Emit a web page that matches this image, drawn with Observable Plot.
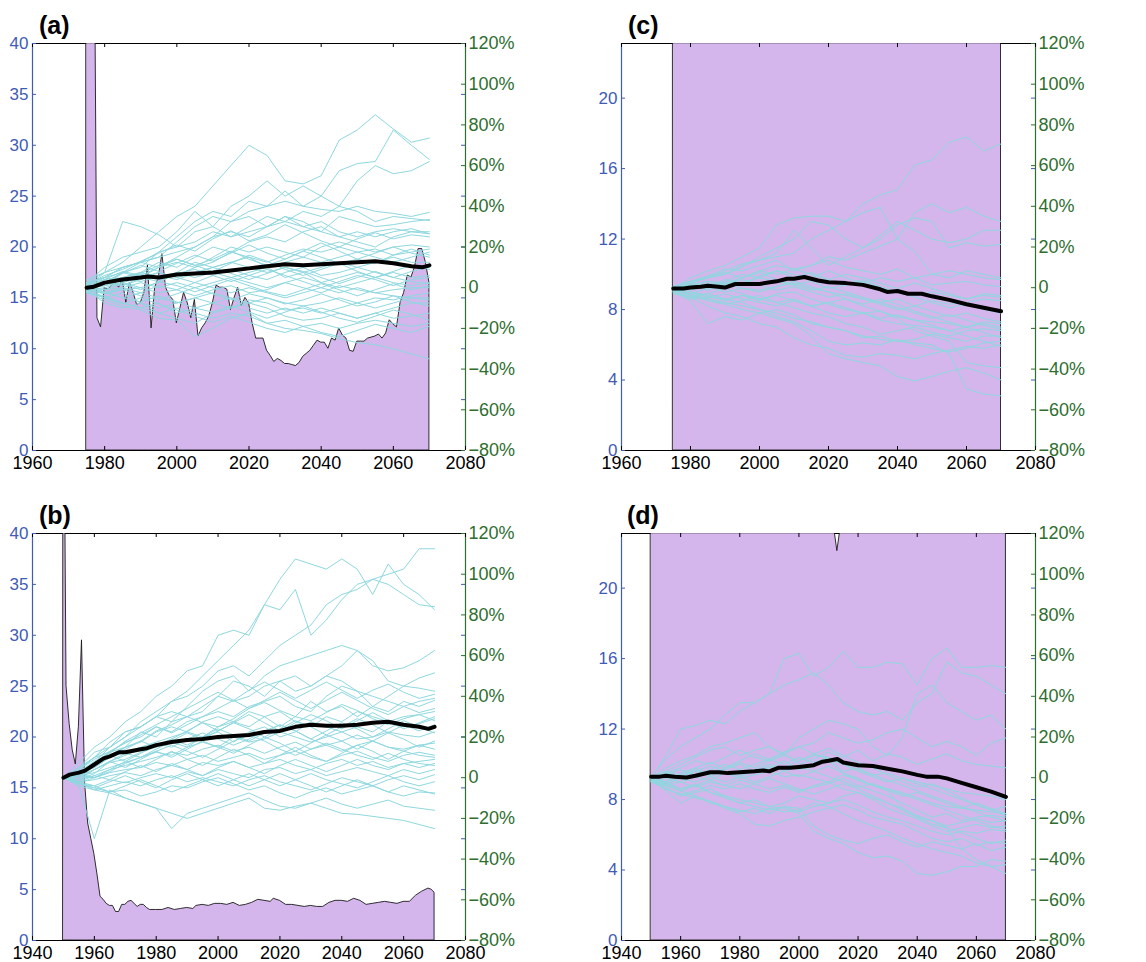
<!DOCTYPE html>
<html><head><meta charset="utf-8">
<script src="https://cdn.jsdelivr.net/npm/d3@7"></script>
<script src="https://cdn.jsdelivr.net/npm/@observablehq/plot@0.6"></script>
<style>
body{margin:0;background:#fff;}
#wrap{position:relative;width:1146px;height:962px;font-family:"Liberation Sans",Arial,sans-serif;overflow:hidden;}
.panel{position:absolute;}
.lab{position:absolute;font-weight:bold;font-size:25px;line-height:1;color:#000;}
</style></head><body><div id="wrap"></div>
<script>
// ---------- tick labels ----------
const xTicksTop = [1960, 1980, 2000, 2020, 2040, 2060, 2080];
const xTicksBottom = [1940, 1960, 1980, 2000, 2020, 2040, 2060, 2080];
const leftTicksAB = [0, 5, 10, 15, 20, 25, 30, 35, 40];
const leftTicksCD = [0, 4, 8, 12, 16, 20];
const pctTicks = [-80, -60, -40, -20, 0, 20, 40, 60, 80, 100, 120];

// ---------- sample years of ensemble lines ----------
const yearsAC = [1975,1980,1985,1990,1995,2000,2005,2010,2015,2020,2025,2030,2035,2040,2045,2050,2055,2060,2065,2070];
const yearsBD = [1950,1955,1960,1965,1970,1975,1980,1985,1990,1995,2000,2005,2010,2015,2020,2025,2030,2035,2040,2045,2050,2055,2060,2065,2070];

// ---------- panel (a) ----------
const areaAStart = 1975;
const areaAValues = [100,100,67,13.0,12.1,16.0,15.8,16.2,16.5,16.0,16.8,14.5,16.5,15.5,14.3,14.5,15.5,18.2,12.0,16.0,
 17.0,19.3,16.0,15.2,14.8,12.5,14.0,15.5,14.5,13.0,14.8,11.2,12.0,12.5,13.2,14.5,16.2,16.0,16.0,15.8,
 13.8,15.0,16.0,14.2,15.0,14.5,12.5,11.0,11.0,11.0,9.8,9.3,8.7,9.0,8.8,8.5,8.5,8.4,8.3,8.6,
 9.2,9.5,9.8,10.3,10.8,10.6,10.6,10.0,11.0,10.8,12.0,11.3,11.0,9.8,9.7,10.7,10.7,10.7,11.0,11.1,
 11.2,11.4,11.0,11.5,12.8,12.4,12.1,14.5,15.5,17.2,17.0,18.0,19.8,19.8,18.5,16.5];
const meanA = [[1975,16.0],[1977,16.1],[1980,16.5],[1985,16.8],[1990,17.0],[1992,17.1],[1995,17.0],[2000,17.3],[2005,17.4],[2010,17.5],[2015,17.7],[2020,17.9],[2025,18.1],[2030,18.3],[2035,18.2],[2040,18.3],[2045,18.4],[2050,18.5],[2055,18.6],[2060,18.4],[2065,18.1],[2068,18.0],[2070,18.2]];
const linesA = [
 [16,17.5,18.5,20,21.5,23,24,26,28,30,29,26.5,26.2,27,30.5,31.5,33,31.6,30.3,30.7],
 [16.5,18,19,19.5,20,21.5,23.5,22,24,25,26.5,25,26,25,24,26.5,28,27.2,27.5,28.4],
 [16,17,18,18.5,19,20.5,22,23,22.5,23.5,24,25.5,24,25,27.5,28.2,28.4,31.5,30,28.6],
 [16.2,16.5,17.5,18.5,19.5,21,22.5,23.5,23,24.5,24,24.5,24,23.7,23.5,24,23.5,23.3,23,23.4],
 [16.5,17.5,22.5,22,21.2,20,20.5,21.5,21,22,23,22.5,22,21.5,23,22.5,22,22.2,22.5,22.7],
 [16.5,17,18,18.5,18,19,20,21,21.5,21,22,23,22.5,21.5,21,21.5,21,21.5,21.8,21.3],
 [15.8,16.5,17,17.5,18.5,18,19,20,19.5,20.5,21,20.5,21.5,22,21,20.5,20,21,21.5,21.5],
 [16,16.5,17.5,17,18,18.5,18,19,20,19.5,20,19.5,19,20,20.5,20,19.5,20,20.2,20],
 [16.3,16.8,17,17.5,17,17.5,18.5,18,18.5,19,18,18.5,19,18.5,19,19.5,19,18.5,19,19.5],
 [16,16.2,16.5,17,17.5,17,17.5,18,18.5,18,17.5,18,17.5,18,18.5,18,18.5,19,18.5,18.5],
 [15.8,16,16.5,16,16.5,17.5,17,17.5,17,17.5,18,17,17.5,16.5,17,17.5,17,17.5,17,17.2],
 [16,15.8,16,16.5,16,16.5,16,16.5,17,16.5,16,16.5,17,16.5,16,16.5,17,16.5,16.2,16.5],
 [16.2,15.5,15.8,16,15.5,15.8,16.5,16,15.5,16,15.5,15,15.5,16,15.5,16,15.5,15.8,16,16],
 [15.7,15.5,15,15.5,15,14.5,15,15.5,15,14.5,15,14.5,14.2,14.5,15,14.5,15,14.8,15.2,15.5],
 [16,15,15.5,14.5,14,14.5,15,14.5,14,14.8,14.5,13.8,14,13.5,14,14.5,14,14.5,15,15],
 [15.5,15.2,14.5,14,14.5,13.5,14,14.5,15,14,13.5,14,13.5,14,13.5,13,13.5,14,14.5,14.5],
 [15.8,14.5,14,14.5,13.5,13,12.5,13.5,14,14.5,14,13.2,12.8,13,13.5,13,13.5,13,13.2,13.5],
 [15.5,14.8,14.2,13.8,13,12.8,11.2,12,13,13.5,12.5,12.8,12.2,12.5,12,12.5,12.8,12.5,12.2,12.5],
 [15.6,15,14.5,14,13.5,14,13.5,13,13.5,13.2,12.5,12,11.8,11.5,11,10.6,10.4,10,9.5,9.0],
 [16.8,17.5,18,18.5,19,19.5,20,21,22.5,23,22,22.5,23.5,23,24,23.5,22.5,23,22.8,22.6],
 [16.4,17,17.5,18,19.5,20,21.5,22,21,21.5,22,23,22,22.5,21.5,21,21.5,21.8,21.5,21.3],
 [15.9,16.2,16.8,17.3,16.8,17.2,18,18.5,19.5,19,18.5,19.2,19.8,19.5,20,19.5,19.8,19.2,19.5,19.8],
 [16.1,16.5,16.2,16.8,17.5,17,16.5,17.2,17.8,17.2,16.8,17.5,18,17.2,17.5,18,17.5,17,17.6,18],
 [15.9,15.5,16,15.5,16.2,15.8,15.2,15.8,16.2,15.5,15.8,16.5,16,15.5,16.2,15.8,15.5,15.2,15,14.8],
 [16.3,17.2,17.8,18.6,19.4,20.2,19.6,20.8,21.6,20.6,21.2,22.2,21.4,20.6,20,20.8,21.4,20.8,21.2,21.0],
 [15.7,16.4,17.4,18.2,17.6,18.4,19.2,18.6,19.4,20.2,19.4,18.8,19.6,20.4,19.6,18.8,18.4,19.2,19.8,19.2],
 [16.0,16.8,17.6,17.2,18.0,18.8,18.2,17.6,18.4,19.2,18.6,17.8,17.2,17.8,18.4,17.6,17.0,17.6,18.2,17.8],
 [15.9,16.6,16.2,17.0,16.6,17.4,17.8,17.2,16.6,17.2,17.8,17.2,16.6,16.0,16.6,17.2,16.8,16.2,16.8,17.0],
 [16.2,15.8,16.4,15.8,16.6,16.2,15.6,16.2,16.8,16.2,15.6,15.2,15.8,16.4,15.8,15.2,15.8,16.4,15.8,16.2],
 [15.8,15.4,15.8,15.2,14.8,15.4,16.0,15.4,14.8,15.4,15.0,14.4,14.8,15.4,14.8,14.2,14.6,15.2,14.6,14.2],
 [16.1,15.6,15.0,14.6,15.2,14.6,14.0,13.6,14.2,13.6,13.0,13.6,14.2,13.6,13.0,12.6,13.2,13.8,13.4,12.8],
 [15.6,15.0,14.4,15.0,14.4,13.8,13.2,12.6,13.2,12.6,12.0,11.6,12.2,11.6,11.2,11.8,12.4,12.0,11.6,12.2],
 [16.4,17.0,16.6,17.4,18.2,18.8,18.2,18.8,19.6,18.8,18.2,18.8,19.6,19.0,18.4,18.8,19.4,20.0,19.4,19.0],
 [16.0,16.4,17.0,16.6,17.2,16.8,17.4,18.0,17.4,16.8,17.4,18.0,17.6,17.0,16.4,17.0,17.6,17.0,16.6,16.4]
];

// ---------- panel (b) ----------
const areaB = [[1950,70],[1951,25],[1952,21.3],[1953,18.7],[1954,17.3],[1955,21],[1956,29.5],[1957,15.5],[1958,11.5],[1959,10],
 [1960,8.5],[1961,6.5],[1962,4.3],[1963,4.0],[1964,3.6],[1965,3.4],[1966,3.4],[1967,2.8],[1968,2.8],[1969,3.5],[1970,3.5],
 [1971,3.8],[1972,3.9],[1973,3.6],[1974,3.3],[1975,3.5],[1976,3.5],[1977,3.2],[1978,3.0],[1980,3.0],[1982,3.0],[1984,3.2],
 [1986,3.0],[1988,3.1],[1990,3.2],[1992,3.1],[1993,3.4],[1995,3.5],[1997,3.4],[1999,3.6],[2001,3.6],[2003,3.5],[2005,3.7],
 [2007,3.4],[2009,3.5],[2011,3.7],[2013,4.0],[2015,3.9],[2017,3.8],[2018,4.1],[2020,3.9],[2022,3.5],[2024,3.5],[2026,3.4],
 [2028,3.3],[2030,3.4],[2032,3.3],[2034,3.3],[2036,3.7],[2038,3.9],[2040,3.9],[2042,3.8],[2044,4.1],[2046,3.9],[2048,3.5],
 [2050,3.6],[2052,3.7],[2054,3.8],[2056,3.7],[2058,3.6],[2060,3.8],[2062,3.8],[2064,4.4],[2066,4.8],[2068,5.1],[2069,5.0],[2070,4.7]];
const meanB = [[1950,16.0],[1952,16.3],[1955,16.5],[1957,16.7],[1960,17.3],[1963,17.9],[1965,18.1],[1968,18.5],[1970,18.5],[1975,18.8],[1977,18.9],[1980,19.2],[1985,19.5],[1990,19.7],[1995,19.8],[2000,20.0],[2005,20.1],[2010,20.2],[2015,20.5],[2020,20.6],[2025,21.0],[2030,21.2],[2035,21.1],[2040,21.1],[2045,21.2],[2050,21.4],[2055,21.5],[2060,21.2],[2065,21.0],[2068,20.8],[2070,21.0]];
const linesB = [
 [16,17.5,19,20,21.5,22.5,24,25,26.5,27,30,30.5,30,33,35.5,37.5,37,36.5,37.5,36.5,34,37,35,34,32.5],
 [16,16.5,17.5,19,20,21.5,22.5,23.5,24.5,26,27.5,29,30.5,33,32.5,34.5,30,31.5,33.5,35,35.5,36,36.5,38.5,38.5],
 [16,17,18.5,19,20,21,22,23.5,24,25,26.5,27,26,27.5,29,30,31,33,34,34.5,35.5,35,34,33,32.8],
 [16,16.8,18,19.5,20.5,21,22,21.5,23,24.5,25.5,26,24.5,26,27,27.5,28,28.5,29,28.5,27,26.5,26.8,27.5,28.5],
 [16,16.5,17,18,19,20.5,20,21.5,22,22.5,24,25.5,25,24,25.5,26,25,26,27,28.5,27.5,25.5,25,25.8,26.3],
 [16,16.2,17.5,18.5,19.5,20,21,20.5,21.5,22,22.5,22,23,23.5,24,23,22.5,24,25,24.5,23,24,25,24.8,24.5],
 [16,17,18,18.5,19,19.5,20.5,21,20.5,21.5,22,21.5,22.5,22,21,22,23.5,22.5,23,22,23,22.5,23.5,23,23.6],
 [16,16.5,17,18,18.5,19,19.5,20,20.5,20,21,21.5,21,22,22.5,21.5,21,22,21.5,22.5,22,21.5,22,22.2,22.5],
 [16,16,16.8,17.5,17.8,18.5,19,19.5,19,20,20.5,19.5,20.5,21,20,20.5,21.5,21,20.5,21,20.5,21.5,21,21.3,21.8],
 [16,16.2,16.5,17,17.5,18,18.5,18.2,19,19.5,19,20,19.5,19.8,20.5,20,19.5,20,20.5,19.8,20,20.5,20.2,20,20.5],
 [16,15.8,16.2,16.8,17.2,17.6,18,18.5,18.2,18.8,19.2,18.6,19,18.4,19,19.5,18.8,19.2,18.6,19.2,19.6,19,18.8,19.2,19.4],
 [16,15.5,16,16.5,16.8,17,17.5,17.2,17.8,18.2,17.6,18,18.4,17.8,18.2,18.6,18,17.6,18.2,18.6,18,17.6,18.2,18.5,18.2],
 [16,15.6,15.8,16.2,16.5,16.2,16.8,17.2,16.8,17.5,17.2,17.6,17,17.4,17.8,17.2,16.8,17.4,17.8,17.2,17.6,17,17.4,17.6,17.8],
 [16,15.4,15.2,15.8,15.5,16,16.4,16,16.6,16.2,16.8,16.4,16,16.8,17,16.4,16.8,16.2,16.6,17,16.6,16.2,16.8,16.4,16.8],
 [16,15.2,14.8,15.2,15.6,15.2,15.8,16.2,15.6,16,15.6,15.2,15.8,16.2,15.6,15.2,14.8,15.4,16,15.6,15.2,15.8,16.2,15.8,16.3],
 [16,15.5,15,14.6,14.8,14.2,14.6,15.2,15,15.6,16,15.4,14.8,15.2,14.5,14,14.6,15,14.4,14.8,15.2,14.6,14.2,14.6,14.5],
 [16,15.2,10,14.8,14,13.5,13,11,12.5,13,13.5,14,14.5,13.8,13.2,13,13.5,14,13.4,13,13.4,13.8,13.2,13,12.8],
 [16,15.5,14.8,14.5,14,13.5,13,12.5,12,12.5,13,13.5,14,13,12.8,13.2,13.5,13,12.5,12.4,12.2,12,11.8,11.4,11.0],
 [16,16.8,18,19,20.5,21,22,22.5,22,23,24,23.5,24,25,25.5,24.5,25,26,25.5,24.5,24,23.5,23,23.5,23.8],
 [16,16.4,17.2,18.2,19,19.6,20.6,21.2,22,21.4,21,21.8,22.8,23.4,22.6,22,21.6,22.4,23.2,22.6,21.8,21.2,21.8,22.2,21.6],
 [16,15.8,16.4,17.6,18.2,18.8,19.4,19,19.8,20.4,19.8,19.2,19.8,20.6,21.2,20.6,19.8,19.2,19.6,20.2,19.6,19,18.6,18.2,18.0],
 [16,16.2,16,16.6,17.4,18,18.6,19.2,18.6,18,18.8,19.6,20.2,19.6,18.8,18.2,18.8,19.4,18.8,18.2,17.8,18.4,17.8,17.4,17.2],
 [16,16.6,17.6,18.4,19.6,20.4,21.2,22.0,22.8,23.6,24.4,23.6,24.6,25.4,24.6,23.8,24.6,25.4,24.6,23.8,24.6,25.2,24.4,23.8,24.2],
 [16,16.2,17.2,18.0,18.8,19.6,19.0,19.8,20.6,21.4,20.6,21.4,22.2,21.4,20.6,21.4,22.2,21.6,20.8,21.6,22.4,21.6,20.8,21.4,22.0],
 [16,15.8,16.8,17.6,17.0,17.8,18.6,18.0,18.8,19.6,19.0,18.4,19.2,20.0,19.4,18.6,19.4,20.2,19.6,18.8,19.6,20.4,19.8,19.0,19.6],
 [16,16.4,16.0,16.8,17.6,17.0,17.8,18.6,17.8,17.2,18.0,18.8,18.2,17.4,18.2,19.0,18.2,17.6,18.4,19.2,18.6,17.8,18.6,19.2,18.8],
 [16,15.6,16.2,15.8,16.6,17.2,16.6,17.4,16.8,16.2,17.0,17.6,17.0,16.4,17.2,17.8,17.2,16.6,17.2,17.8,17.2,16.8,17.4,17.0,17.4],
 [16,15.4,15.0,15.6,16.2,15.6,15.0,15.8,16.4,15.8,15.2,15.8,16.4,15.8,15.2,15.8,16.4,15.8,15.4,15.0,15.6,16.2,15.6,15.2,15.6],
 [16,16.8,17.8,18.6,19.4,20.2,21.0,20.4,21.2,22.0,22.8,23.6,22.8,23.6,24.4,23.6,22.8,23.6,24.4,23.6,22.8,22.2,23.0,22.4,22.8],
 [16,16.2,16.8,17.6,18.4,18.0,18.8,19.6,20.4,19.8,20.6,21.4,20.8,20.0,20.8,21.6,21.0,20.2,21.0,21.8,21.2,20.4,21.2,20.6,21.2],
 [16,15.6,15.2,14.6,15.2,15.8,15.2,14.6,15.2,15.8,16.4,15.8,15.2,15.8,16.4,15.8,15.2,14.6,15.2,15.8,15.2,14.6,15.2,14.8,14.4],
 [16,16.4,17.4,18.2,17.6,18.4,19.2,19.8,19.2,20.0,20.8,20.2,19.6,20.4,21.2,20.6,19.8,20.6,21.4,20.8,20.0,20.8,21.6,21.0,20.4]
];

// ---------- panel (c) ----------
const areaC = [[1975,40],[2000,45],[2025,42],[2050,38],[2070,40]]; // lies above the visible range (clipped)
const meanC = [[1975,9.2],[1978,9.2],[1980,9.25],[1983,9.3],[1985,9.35],[1988,9.3],[1990,9.25],[1993,9.45],[1995,9.45],[2000,9.45],[2003,9.55],[2005,9.6],[2008,9.75],[2010,9.75],[2013,9.85],[2015,9.75],[2017,9.65],[2020,9.55],[2025,9.5],[2030,9.4],[2035,9.15],[2037,9.0],[2040,9.05],[2043,8.9],[2047,8.9],[2050,8.75],[2055,8.55],[2060,8.3],[2065,8.1],[2070,7.9]];
const linesC = [
 [9.2,9.5,9.8,10,10.5,10.8,11,11.2,12,12.5,13,14,14.5,14.8,16.2,16.5,17.5,17.8,17,17.4],
 [9.2,9.8,10.2,10.5,11,11.5,12.8,13.2,13.3,13.3,13,13.5,13.8,12,13.5,14,13.5,13.8,13.3,13],
 [9,9.5,9.8,10,10.4,11,11.5,12,13,12.8,12,11.5,12.2,13,12.5,12,11.8,12,12.5,12.5],
 [9.3,9.6,9.8,10.2,10.6,10.8,11.2,12.5,11.5,10.5,11,11.5,12,12.8,13.2,13,11.5,11.8,11.6,11.7],
 [9.1,9.4,9.6,9.5,9.8,10.2,10,10.3,10.5,10.8,10.4,10.2,10,10.3,9.8,10,10.2,10,9.8,9.7],
 [9.2,9.3,9.2,9.6,10,9.8,10.2,10,9.8,10.2,9.8,9.5,9.8,9.6,9.8,9.4,9.5,9.6,9.4,9.3],
 [9.0,9.2,9.5,9.3,9.5,9.8,9.6,9.4,9.6,9.2,9.4,9.6,9.2,9,8.8,9,8.8,8.6,8.8,8.7],
 [9.3,9.1,9.3,9,9.2,9.1,9.3,9.5,9.2,9,8.8,8.6,8.4,8.6,8.2,8.5,8.3,8.4,8.6,8.5],
 [9.1,8.8,8.9,8.6,8.8,8.5,8.9,9,8.6,8.3,8.0,7.8,7.9,7.6,7.4,7.3,7.2,7,7.3,7.2],
 [9.0,8.6,8.7,8.9,8.6,8.4,8.2,8.5,8.2,7.8,7.6,7.8,7.4,7.2,7.1,7,6.8,7,7.2,7.0],
 [9.2,8.8,8.5,8.3,8.5,8.8,8.4,8.1,7.8,7.6,7.2,7,6.6,6.8,7,6.7,6.5,6.8,6.9,6.8],
 [9.0,8.5,7.2,7.6,7.4,7.8,8,7.7,7.2,7,6.8,6.4,6.5,6.2,6.3,6.6,6.4,6.2,6.5,6.5],
 [9.1,8.9,8.6,8.4,8.2,8.0,7.6,7.3,6.8,6.2,6.0,6.1,6.0,6.3,6.0,5.8,5.6,5.8,6.1,6.2],
 [8.9,8.7,8.2,7.8,7.6,7.2,7.0,6.4,6.0,5.8,5.4,5.3,5.5,5.4,5.2,5.5,5.7,5.9,5.8,6.0],
 [9.0,8.7,8.6,8.3,8,7.8,7.5,7.2,6.5,5.5,5.2,5.0,4.8,4.2,3.95,4.2,4.5,4.7,4.4,4.0],
 [9.2,9,8.7,8.6,8.4,8,7.8,7.5,7.3,7,6.8,6.5,6.3,6.2,6.1,6.0,5.5,3.5,3.2,3.1],
 [9.3,9.6,9.9,10.3,10.2,10.5,10.8,10.2,10.5,11,10.8,11.2,11.6,12,11.3,10,9.8,10.2,10,9.8],
 [9.2,9,8.8,8.5,8.8,8.6,8.4,8.6,8.2,8.4,8.6,8.2,7.9,7.5,6.8,6.5,6.2,5,4.8,4.7],
 [9.2,9.5,9.3,9.7,9.5,9.9,10.2,9.8,10.1,9.7,9.4,9.7,9.3,9.0,8.7,8.4,8.1,8.3,8.0,7.8],
 [9.0,9.3,9.6,9.4,9.8,10.1,9.7,9.4,9.1,9.3,9.0,8.7,8.4,8.1,7.8,7.5,7.7,7.4,7.1,6.9],
 [9.1,8.9,9.2,9.5,9.2,9.0,9.3,9.6,9.3,9.0,8.6,8.3,8.6,8.3,7.9,7.6,7.3,7.0,6.7,6.4],
 [9.3,9.6,9.9,10.1,9.8,10.2,10.5,10.3,10.0,9.7,10.0,9.8,9.5,9.2,9.5,9.2,8.9,8.6,8.9,8.8],
 [9.0,8.7,8.9,9.2,8.9,8.6,8.8,8.5,8.2,8.4,8.1,7.8,7.5,7.7,7.4,7.1,6.8,6.5,6.2,5.9],
 [9.2,9.4,9.1,9.4,9.7,9.4,9.1,9.3,9.0,8.7,8.9,8.6,8.3,8.0,8.2,7.9,7.6,7.8,7.5,7.3]
];

// ---------- panel (d) ----------
const areaD = [[1950,40],[1980,40],[2011,24.5],[2013,22.1],[2015,24.5],[2040,40],[2070,40]]; // mostly above the visible range
const meanD = [[1950,9.3],[1953,9.3],[1955,9.35],[1958,9.3],[1962,9.25],[1965,9.35],[1970,9.55],[1973,9.55],[1976,9.5],[1980,9.55],[1985,9.6],[1988,9.65],[1990,9.6],[1993,9.8],[1997,9.8],[2000,9.85],[2005,9.95],[2008,10.15],[2010,10.2],[2013,10.3],[2015,10.1],[2020,9.95],[2025,9.9],[2030,9.75],[2035,9.6],[2040,9.4],[2043,9.3],[2047,9.3],[2050,9.2],[2055,8.95],[2060,8.7],[2065,8.45],[2070,8.15]];
const linesD = [
 [9.3,10.3,11,11.5,12,12.8,13.5,13.5,14,16,16.3,15,15.5,16.4,15.5,15.5,15.8,15.7,14.5,16,16.6,15.5,15.5,15.6,15.5],
 [9.2,10.5,12,12.2,12.5,12.3,13,13.5,14,14.5,14.8,15.2,14.5,13.5,13,12.8,13,12.5,13.5,14,15.8,15.2,15,14.5,14],
 [9.2,9.8,10.2,10.5,11,11.2,11.5,11.8,11,10.5,11.5,12,12.5,12.3,12,11,10.5,11.5,14,14.5,13.5,13,12.5,12.8,12],
 [9.3,9.6,10,10.4,10.8,11,10.5,10.8,11,10.6,11,11.2,11.8,11.5,11.2,11.4,11.8,12,11.5,11,11.3,11,10.5,11.2,11.5],
 [9.1,9.5,9.8,10.2,10,10.4,10.8,10.4,10.2,10.6,10,10.3,10.7,10.4,10.8,10.2,10.6,10.4,10,10.3,10.6,10.2,10,9.9,9.8],
 [9.2,9,9.5,9.8,9.4,9.7,10,9.6,9.8,10.2,9.7,9.9,10.2,9.6,9.8,9.4,9.5,9.2,9,8.8,8.6,8.4,8.3,8.2,8.0],
 [9.0,9.2,9,9.3,9.1,9.5,9.2,9.4,9.6,9.3,9.4,9.2,9,9.4,9.1,8.8,8.6,8.4,8.1,7.8,7.6,7.5,7.4,7.3,7.2],
 [9.2,8.8,9,8.7,9,8.8,9.1,8.9,8.6,8.8,8.5,8.7,8.9,9.2,8.8,8.5,8.2,7.8,7.4,7,7.2,6.8,7,7.1,7.0],
 [9.1,8.6,8.3,8.5,8.8,8.6,8.9,8.6,8.4,8.7,8.4,8.8,9,8.6,8.4,8.1,7.8,7.4,7,6.8,6.5,6.7,6.9,6.7,6.8],
 [9.3,8.9,8.6,8.9,8.4,8.1,7.8,8,7.6,7.8,8.2,8,7.8,8.2,8.4,8,7.5,7.2,6.9,6.5,6.2,6.4,6.6,6.4,6.5],
 [9.0,8.7,8.2,8.4,8.6,8.2,7.8,7.6,7.4,7.6,7.3,7.6,7.8,8,7.7,7.3,7,6.8,6.5,6.2,6,6.2,6.1,6.3,6.2],
 [9.2,8.5,7.8,8.2,7.9,7.5,7.2,6.6,6.5,6.8,7,7.3,7.5,7.7,7.4,7,6.8,6.6,6.2,5.8,5.6,5.8,5.4,5.6,5.5],
 [9.1,8.8,8.5,8.2,7.8,7.6,7.3,7.5,7.2,7.6,7.5,6.5,6,5.7,5.5,5.8,6,5.6,5.3,5.6,5.4,5.2,5.5,5.1,5.3],
 [9.2,9,8.6,8.8,8.4,8.2,8,7.8,7.6,7.5,7.2,6.2,5.8,5.5,5,4.7,4.8,4.5,3.8,3.7,3.9,4.2,4.2,4.6,4.5],
 [9.0,8.6,8.3,8.1,7.9,7.6,7.4,7.2,7.5,7.3,7.4,7.8,7.6,7.2,6.8,6.5,6.2,5.8,5.5,5.2,5,4.8,4.4,4.2,4.3],
 [9.2,9.4,9.3,9.6,9.9,9.6,9.4,9.7,10,9.8,10.2,10.5,10.4,9.5,9.2,8.8,8.5,7.5,7,6.6,6.4,5.2,4.6,4.2,3.8],
 [9.2,9.5,9.3,9.7,9.4,9.8,10.1,9.8,10.2,10.5,10.2,10.6,10.3,10.0,9.7,9.4,9.1,8.8,8.5,8.2,7.9,7.6,7.3,7.0,6.8],
 [9.1,8.9,9.2,9.0,9.3,9.6,9.3,9.6,9.9,9.6,9.9,9.6,9.3,9.0,8.7,8.9,8.6,8.3,8.0,7.7,7.4,7.1,6.8,6.5,6.3],
 [9.3,9.6,9.4,9.8,10.1,9.8,10.2,10.6,10.3,10.7,11.0,10.6,10.9,10.5,10.1,9.8,9.4,9.0,8.7,8.9,8.5,8.1,7.7,7.4,7.6],
 [9.0,8.8,8.5,8.8,9.1,8.8,8.6,8.9,9.2,8.9,8.6,8.3,8.6,8.9,8.6,8.2,7.8,7.5,7.1,6.8,6.4,6.1,5.8,5.5,5.7],
 [9.2,9.0,9.3,9.6,9.3,9.0,9.3,9.0,9.3,9.6,9.3,9.6,9.9,9.5,9.1,8.8,8.5,8.2,8.4,8.1,7.8,7.5,7.8,7.5,7.2],
 [9.1,9.4,9.7,9.4,9.7,10.0,9.7,10.0,10.3,10.0,10.4,10.1,10.4,10.0,9.6,9.3,9.0,9.2,8.9,8.6,8.3,8.0,7.7,7.4,7.1]
];

// ---------- styling ----------
const PURPLE = "#d4b6ec", CYAN = "#8ed8df", BLUE = "#3f5cb6", GREEN = "#2e6e30";

function panel(cfg) {
  const {xDomain, xTicks, yTop, leftTicks, years, lines, mean, area, width, marginLeft, marginRight} = cfg;
  const height = 472, marginTop = 43, marginBottom = 22;
  const plotW = width - marginLeft - marginRight, plotH = height - marginTop - marginBottom;
  const toY = p => yTop * (p + 80) / 200;
  const fromY = v => Math.round(v / yTop * 200 - 80);
  const pctFmt = v => { const p = fromY(v); return p === 0 ? "0" : (p < 0 ? "\u2212" + (-p) : String(p)) + "%"; };
  const lineData = lines.flatMap((vals, id) => vals.map((v, i) => ({x: years[i], y: v, id})));
  const meanData = mean.map(([x, y]) => ({x, y}));
  const areaData = area.map(([x, y]) => ({x, y}));
  const rightY = pctTicks.map(toY);
  return Plot.plot({
    width, height, marginLeft, marginRight, marginTop, marginBottom,
    style: {fontFamily: '"Liberation Sans", Arial, sans-serif', fontSize: "17px", background: "transparent", overflow: "visible"},
    x: {domain: xDomain, axis: null},
    y: {domain: [0, yTop], axis: null},
    marks: [
      Plot.ruleY([yTop], {stroke: "#000", strokeWidth: 1.2}),
      Plot.areaY(areaData, {x: "x", y: "y", fill: PURPLE, stroke: "#1a1a1a", strokeWidth: 0.9, clip: true}),
      Plot.ruleY([yTop], {stroke: "#000", strokeOpacity: 0.22, strokeWidth: 1.2}),
      Plot.lineY(lineData, {x: "x", y: "y", z: "id", stroke: CYAN, strokeWidth: 1, clip: true}),
      Plot.lineY(meanData, {x: "x", y: "y", stroke: "#000", strokeWidth: 4, strokeLinejoin: "round", strokeLinecap: "round"}),
      Plot.ruleY([0], {stroke: "#000", strokeWidth: 1.2}),
      Plot.ruleX([xDomain[0]], {stroke: BLUE, strokeWidth: 1.2}),
      Plot.ruleX([xDomain[1]], {stroke: GREEN, strokeWidth: 1.2}),
      Plot.tickX(xTicks, {x: d => d, insetTop: plotH - 4, stroke: "#000"}),
      Plot.tickX(xTicks, {x: d => d, insetBottom: plotH - 4, stroke: "#000"}),
      Plot.tickY(leftTicks, {y: d => d, insetRight: plotW - 4, stroke: BLUE}),
      Plot.tickY(leftTicks, {y: d => d, insetLeft: plotW - 4, stroke: BLUE}),
      Plot.tickY(rightY, {y: d => d, insetLeft: plotW - 4, stroke: GREEN}),
      Plot.axisX(xTicks, {tickSize: 0, tickPadding: 6, fill: "#000", stroke: "#000", strokeWidth: 0.45, fontSize: 18, tickFormat: d => String(d), label: null}),
      Plot.axisY(leftTicks, {anchor: "left", tickSize: 0, tickPadding: 4, fill: BLUE, fontSize: 17, tickFormat: d => String(d), label: null}),
      Plot.axisY(rightY, {anchor: "right", tickSize: 0, tickPadding: 3, fill: GREEN, stroke: GREEN, strokeWidth: 0.35, fontSize: 18, tickFormat: pctFmt, label: null})
    ]
  });
}

const wrap = document.getElementById("wrap");
const panels = [
  {label: "(a)", left: 0, top: 0, labX: 39, cfg: {xDomain: [1960, 2080], xTicks: xTicksTop, yTop: 40, leftTicks: leftTicksAB, years: yearsAC, lines: linesA, mean: meanA,
    area: areaAValues.map((v, i) => [areaAStart + i, v]), width: 560, marginLeft: 32, marginRight: 95}},
  {label: "(c)", left: 560, top: 0, labX: 68, cfg: {xDomain: [1960, 2080], xTicks: xTicksTop, yTop: 23.1, leftTicks: leftTicksCD, years: yearsAC, lines: linesC, mean: meanC,
    area: areaC, width: 586, marginLeft: 61, marginRight: 111}},
  {label: "(b)", left: 0, top: 490, labX: 39, cfg: {xDomain: [1940, 2080], xTicks: xTicksBottom, yTop: 40, leftTicks: leftTicksAB, years: yearsBD, lines: linesB, mean: meanB,
    area: areaB, width: 560, marginLeft: 32, marginRight: 95}},
  {label: "(d)", left: 560, top: 490, labX: 67, cfg: {xDomain: [1940, 2080], xTicks: xTicksBottom, yTop: 23.1, leftTicks: leftTicksCD, years: yearsBD, lines: linesD, mean: meanD,
    area: areaD, width: 586, marginLeft: 61, marginRight: 111}}
];
for (const p of panels) {
  const div = document.createElement("div");
  div.className = "panel";
  div.style.left = p.left + "px";
  div.style.top = p.top + "px";
  div.appendChild(panel(p.cfg));
  wrap.appendChild(div);
  const lab = document.createElement("div");
  lab.className = "lab";
  lab.textContent = p.label;
  lab.style.left = (p.left + p.labX) + "px";
  lab.style.top = (p.top + 13) + "px";
  wrap.appendChild(lab);
}
</script></body></html>
